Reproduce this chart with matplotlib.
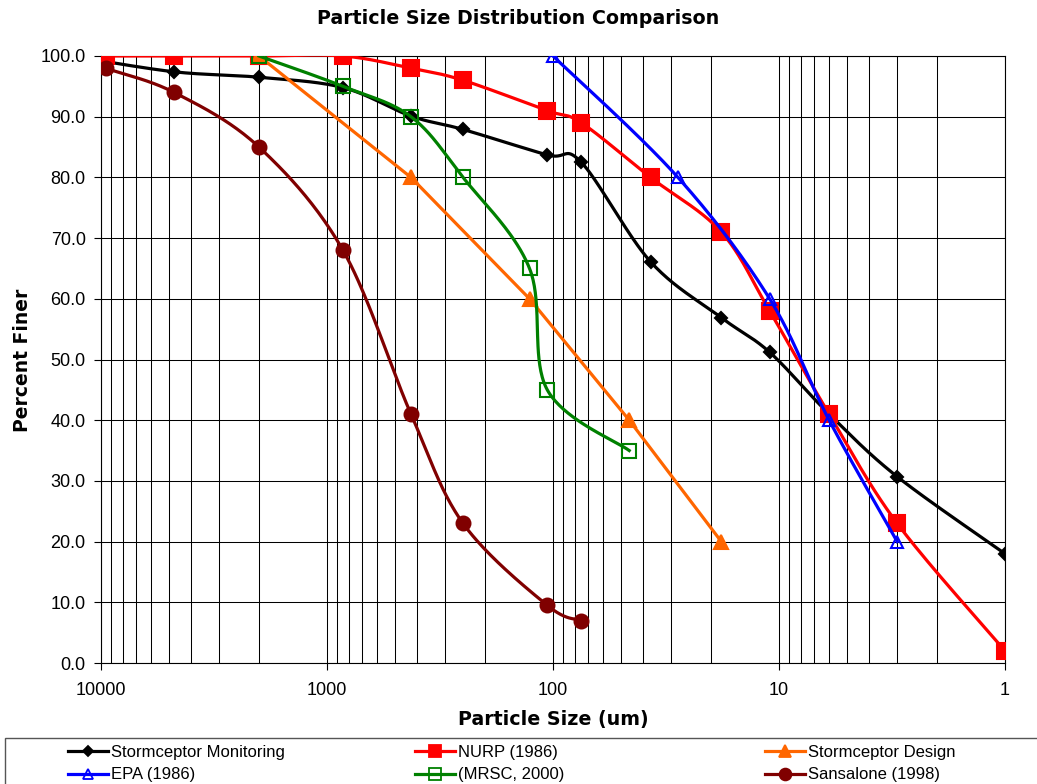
import numpy as np
import matplotlib
matplotlib.use('Agg')
import matplotlib.pyplot as plt
from matplotlib.ticker import FixedLocator, LogLocator, NullFormatter, FormatStrFormatter
from matplotlib.patches import Rectangle
from matplotlib.lines import Line2D

# DATOS (tamaño en um, porcentaje que pasa)
monit_x = [12500, 4750, 2000, 850, 425, 250, 106, 75, 37, 18, 11, 6, 3, 1]
monit_y = [99.8, 97.4, 96.5, 94.8, 90.1, 87.9, 83.7, 82.5, 66.1, 56.9, 51.2, 41.0, 30.7, 18.0]

nurp_x = [12500, 9500, 4750, 2000, 850, 425, 250, 106, 75, 37, 18, 11, 6, 3, 1]
nurp_y = [100, 100, 100, 100, 100, 98, 96, 91, 89, 80, 71, 58, 41, 23, 2]

diseno_x = [2000, 425, 127, 46, 18]
diseno_y = [100, 80, 60, 40, 20]

epa_x = [100, 28, 11, 6, 3]
epa_y = [100, 80, 60, 40, 20]

mrsc_x = [2000, 850, 425, 250, 127, 106, 46]
mrsc_y = [100, 95, 90, 80, 65, 45, 35]

sans_x = [12500, 9500, 4750, 2000, 850, 425, 250, 106, 75]
sans_y = [100, 98, 94, 85, 68, 41, 23, 9.5, 7]

x_ticks = [10000, 1000, 100, 10, 1]
x_labels = ['10000', '1000', '100', '10', '1']
y_ticks = np.arange(0, 101, 10)


def curva_suave(x, y, n=40):
    '''Curva suavizada tipo Excel (Bezier por Catmull-Rom) en escala log-x.'''
    P = np.column_stack([np.log10(x), np.asarray(y, float)])
    partes = []
    for i in range(len(P) - 1):
        p0 = P[i - 1] if i > 0 else P[i]
        p1, p2 = P[i], P[i + 1]
        p3 = P[i + 2] if i + 2 < len(P) else P[i + 1]
        c1 = p1 + (p2 - p0) / 6
        c2 = p2 - (p3 - p1) / 6
        t = np.linspace(0, 1, n)[:, None]
        seg = ((1 - t)**3 * p1 + 3 * (1 - t)**2 * t * c1
               + 3 * (1 - t) * t**2 * c2 + t**3 * p2)
        partes.append(seg if i == 0 else seg[1:])
    pts = np.vstack(partes)
    return 10**pts[:, 0], pts[:, 1]


W, H = 1037, 784
fig = plt.figure(figsize=(W / 100, H / 100), dpi=100)
ax = fig.add_axes([101 / W, 1 - 663 / H, (1005 - 101) / W, (663 - 56) / H])

# SERIES
series = [
    # etiqueta, x, y, color, marcador, tamaño, relleno, suavizar
    ('Stormceptor Monitoring', monit_x, monit_y, 'black', 'D', 6.5, 'black', True),
    ('NURP (1986)', nurp_x, nurp_y, '#FF0000', 's', 11, '#FF0000', True),
    ('Stormceptor Design', diseno_x, diseno_y, '#FF6600', '^', 10, '#FF6600', False),
    ('EPA (1986)', epa_x, epa_y, '#0000FF', '^', 9, 'none', True),
    ('(MRSC, 2000)', mrsc_x, mrsc_y, '#008000', 's', 9.5, 'none', True),
    ('Sansalone (1998)', sans_x, sans_y, '#800000', 'o', 10, '#800000', True),
]

handles = []
for i, (lab, x, y, c, m, ms, fc, suave) in enumerate(series):
    if suave:
        sx, sy = curva_suave(x, y)
    else:
        sx, sy = x, y
    ax.plot(sx, sy, color=c, lw=2.3, zorder=3 + i)
    ax.plot(x, y, ls='none', marker=m, ms=ms, mfc=fc, mec=c, mew=1.5, zorder=3 + i)
    handles.append(Line2D([], [], color=c, lw=2.3, marker=m, ms=ms * 0.85,
                          mfc=fc, mec=c, mew=1.3))

# EJES
ax.set_xscale('log')
ax.set_xlim(10000, 1)
ax.set_ylim(0, 100)
ax.xaxis.set_major_locator(FixedLocator(x_ticks))
ax.set_xticklabels(x_labels)
ax.xaxis.set_minor_locator(LogLocator(base=10, subs=np.arange(2, 10)))
ax.xaxis.set_minor_formatter(NullFormatter())
ax.set_yticks(y_ticks)
ax.yaxis.set_major_formatter(FormatStrFormatter('%.1f'))
ax.tick_params(which='major', direction='out', length=5, width=0.8, color='black',
               labelsize=13, labelfontfamily='Liberation Sans')
ax.tick_params(axis='x', which='major', pad=9)
ax.tick_params(axis='y', which='major', pad=6)
ax.tick_params(which='minor', length=0)
ax.grid(True, which='both', axis='x', color='black', lw=0.75)
ax.grid(True, which='major', axis='y', color='black', lw=0.75)
ax.set_axisbelow(True)
for s in ax.spines.values():
    s.set_color('black')
    s.set_linewidth(0.8)

# TEXTOS
fig.text(518 / W, 1 - 18 / H, 'Particle Size Distribution Comparison',
         ha='center', va='center', fontsize=13.7, fontweight='bold', family='DejaVu Sans')
fig.text(553 / W, 1 - 720 / H, 'Particle Size (um)',
         ha='center', va='center', fontsize=13.7, fontweight='bold', family='DejaVu Sans')
fig.text(23 / W, 1 - 360 / H, 'Percent Finer', rotation=90,
         ha='center', va='center', fontsize=13.5, fontweight='bold', family='DejaVu Sans')

# LEYENDA
fig.patches.append(Rectangle((5 / W, -0.01), (W + 10) / W, (784 - 738) / H + 0.01,
                             transform=fig.transFigure, fill=False,
                             edgecolor='#555555', lw=1))
columnas = [68, 415, 765]
for k, xc in enumerate(columnas):
    hs = [handles[k], handles[k + 3]]
    ls = [series[k][0], series[k + 3][0]]
    fig.legend(hs, ls, loc='upper left', bbox_to_anchor=(xc / W, 1 - 745 / H),
               frameon=False, borderpad=0, borderaxespad=0, handlelength=2.4,
               handletextpad=0.18, labelspacing=0.45, numpoints=1,
               prop={'family': 'Liberation Sans', 'size': 12})

fig.savefig('out.png', dpi=100)
